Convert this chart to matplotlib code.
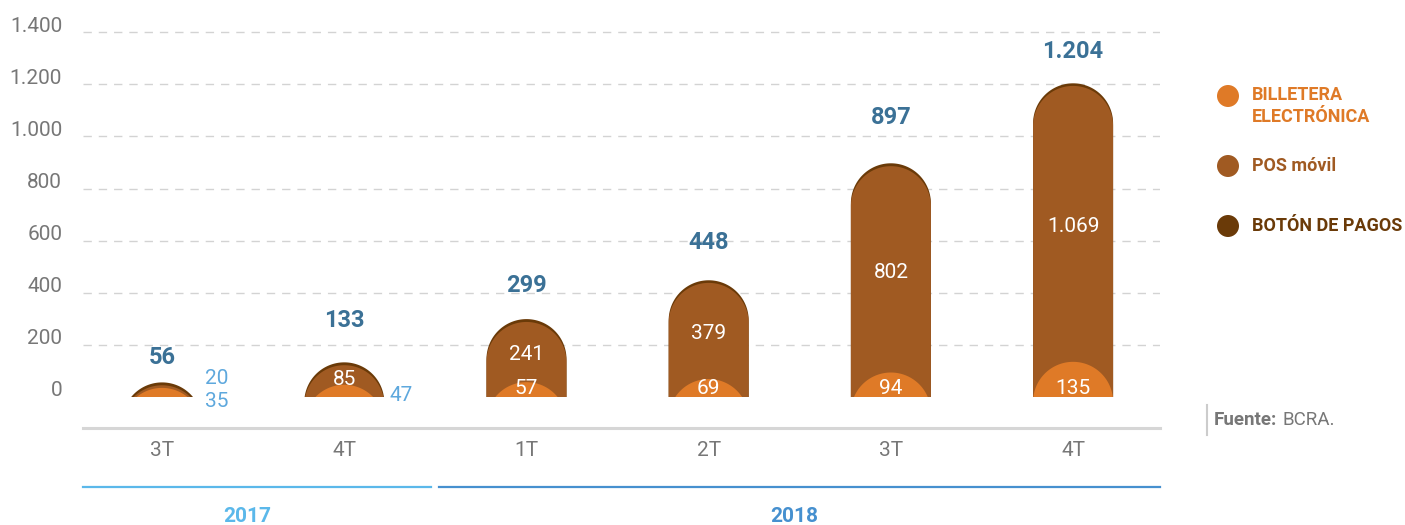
import matplotlib
matplotlib.use("Agg")
import matplotlib.pyplot as plt
import numpy as np
from matplotlib.patches import PathPatch, Rectangle, Circle
from matplotlib.path import Path
from matplotlib.lines import Line2D
from matplotlib.transforms import ScaledTranslation, blended_transform_factory

plt.rcParams['font.family'] = ['Roboto', 'DejaVu Sans']

# ---- data -------------------------------------------------------------
quarters = ["3T", "4T", "1T", "2T", "3T", "4T"]
years = ["2017", "2018"]
year_quarters = [2, 4]                       # quarters per year group
billetera = [35, 47, 57, 69, 94, 135]       # Billetera electrónica
pos_movil = [20, 85, 241, 379, 802, 1069]   # POS móvil
boton = [1, 1, 1, 0, 1, 0]                  # Botón de pagos
totals = [56, 133, 299, 448, 897, 1204]
yticks = [0, 200, 400, 600, 800, 1000, 1200, 1400]

# ---- colours ----------------------------------------------------------
C_BILL = "#df7a27"
C_POS = "#a05a22"
C_BOTON = "#6a3a08"
C_TOTAL = "#3b7196"
C_SMALL = "#5ea8dd"
C_GRAY = "#777777"
C_2017 = "#5bb8ea"
C_2018 = "#4690cf"


def fmt(v):
    return f"{v:,}".replace(",", ".")


W, H = 1405, 525
fig = plt.figure(figsize=(W / 100, H / 100), dpi=100)
ax = fig.add_axes([83 / W, 97 / H, 1077 / W, 408 / H])
ax.set_xlim(-0.434, 5.477)
ax.set_ylim(-119, 1447)

for s in ["top", "right", "left"]:
    ax.spines[s].set_visible(False)
ax.spines["bottom"].set_color("#d6d6d6")
ax.spines["bottom"].set_linewidth(2.2)

x = np.arange(len(quarters))

# pixel scale of the data axes, so the bar tops are true semicircles
px_x = ax.get_position().width * W / (ax.get_xlim()[1] - ax.get_xlim()[0])
px_y = ax.get_position().height * H / (ax.get_ylim()[1] - ax.get_ylim()[0])
half_px = 40
rx = half_px / px_x
ry = half_px / px_y

# dashed grid
for t in yticks[1:]:
    ax.plot(ax.get_xlim(), [t, t], color="#d3d3d3", lw=1.0,
            dashes=(6, 5), zorder=0)

ax.set_yticks(yticks)
ax.set_yticklabels([fmt(t) for t in yticks], fontsize=15, color=C_GRAY)
ax.tick_params(axis="y", length=0, pad=15)
shift = ScaledTranslation(0, 8 / 100, fig.dpi_scale_trans)
for lab in ax.get_yticklabels():
    lab.set_transform(lab.get_transform() + shift)

ax.set_xticks(x)
ax.set_xticklabels(quarters, fontsize=15, color=C_GRAY)
ax.tick_params(axis="x", length=0, pad=9)

clip = Rectangle((-1, 0), 10, 5000, transform=ax.transData)
# the POS layer sits a hair lower so the darker top rim stays visible
rim = ScaledTranslation(0, -2.6 / 100, fig.dpi_scale_trans)


def capsule(cx, top, color, z, offset=None):
    cy = top - ry
    th = np.linspace(np.pi, 0, 90)
    xs = np.concatenate([[cx - rx], cx + rx * np.cos(th), [cx + rx]])
    ys = np.concatenate([[-500], cy + ry * np.sin(th), [-500]])
    verts = np.column_stack([xs, ys])
    tr = ax.transData if offset is None else ax.transData + offset
    patch = PathPatch(Path(verts, closed=False), facecolor=color,
                      edgecolor="none", zorder=z, transform=tr)
    ax.add_patch(patch)
    patch.set_clip_path(clip)


for i in range(len(quarters)):
    total = billetera[i] + pos_movil[i] + boton[i]
    capsule(x[i], total, C_BOTON, 2)
    capsule(x[i], billetera[i] + pos_movil[i], C_POS, 3, offset=rim)
    capsule(x[i], billetera[i], C_BILL, 4)

# value labels
total_pad = [18, 30, 24, 27, 33, 23]
for i, t in enumerate(totals):
    ax.annotate(fmt(t), (x[i], t), xytext=(0, total_pad[i]),
                textcoords="offset points", ha="center", va="center",
                fontsize=17, fontweight="bold", color=C_TOTAL)

for i in range(len(quarters)):
    b, p = billetera[i], pos_movil[i]
    if i == 0:
        ax.annotate(fmt(p), (x[i] + rx, b + p), xytext=(2, 3),
                    textcoords="offset points", ha="left", va="center",
                    fontsize=15, color=C_SMALL)
        ax.annotate(fmt(b), (x[i] + rx, 0), xytext=(2, -3),
                    textcoords="offset points", ha="left", va="center",
                    fontsize=15, color=C_SMALL)
        continue
    if i == 1:
        ax.annotate(fmt(p), (x[i], b + p), xytext=(0, -12),
                    textcoords="offset points", ha="center", va="center",
                    fontsize=15, color="white", zorder=6)
        ax.annotate(fmt(b), (x[i] + rx, 0), xytext=(4, 1),
                    textcoords="offset points", ha="left", va="center",
                    fontsize=15, color=C_SMALL)
        continue
    ax.annotate(fmt(p), (x[i], b + p / 2), xytext=(0, -3),
                textcoords="offset points", ha="center", va="center",
                fontsize=15, color="white", zorder=6)
    ax.annotate(fmt(b), (x[i], 0), xytext=(0, 6),
                textcoords="offset points", ha="center", va="center",
                fontsize=15, color="white", zorder=6)

# year brackets under the quarter labels
trans = blended_transform_factory(ax.transData, fig.transFigure)
y_line = 1 - 487 / H
y_text = 1 - 516 / H
start = 0
for k, (yr, n, col) in enumerate(zip(years, year_quarters, [C_2017, C_2018])):
    x0 = ax.get_xlim()[0] if k == 0 else start - 0.5 + 0.022
    x1 = ax.get_xlim()[1] if k == len(years) - 1 else start + n - 0.5 - 0.022
    fig.add_artist(Line2D([x0, x1], [y_line, y_line], transform=trans,
                          color=col, lw=1.6, clip_on=False))
    ax.text(start + (n - 1) / 2 - 0.03, y_text, yr, transform=trans,
            ha="center", va="center", fontsize=15, fontweight="bold",
            color=col)
    start += n

# legend
legend_items = [("BILLETERA\nELECTRÓNICA", C_BILL, 96, 106),
                ("POS móvil", C_POS, 166, 166),
                ("BOTÓN DE PAGOS", C_BOTON, 226, 226)]
for label, col, ydot, ytxt in legend_items:
    fig.add_artist(Circle((1228 / 100, (H - ydot) / 100), 0.11,
                          transform=fig.dpi_scale_trans, facecolor=col,
                          edgecolor="none"))
    fig.text(1252 / W, 1 - ytxt / H, label, ha="left", va="center",
             fontsize=13, fontweight="bold", color=col, linespacing=1.35)

# source note
fig.add_artist(Line2D([1207 / W, 1207 / W], [1 - 405 / H, 1 - 435 / H],
                      transform=fig.transFigure, color="#cccccc", lw=1.5))
src = fig.text(1214 / W, 1 - 420 / H, "Fuente:", ha="left", va="center",
               fontsize=13.5, fontweight="bold", color=C_GRAY)
fig.canvas.draw()
bb = src.get_window_extent()
fig.text((bb.x1 + 5) / W, 1 - 420 / H, "BCRA.", ha="left", va="center",
         fontsize=13.5, color=C_GRAY)

fig.savefig("out.png", dpi=100)
